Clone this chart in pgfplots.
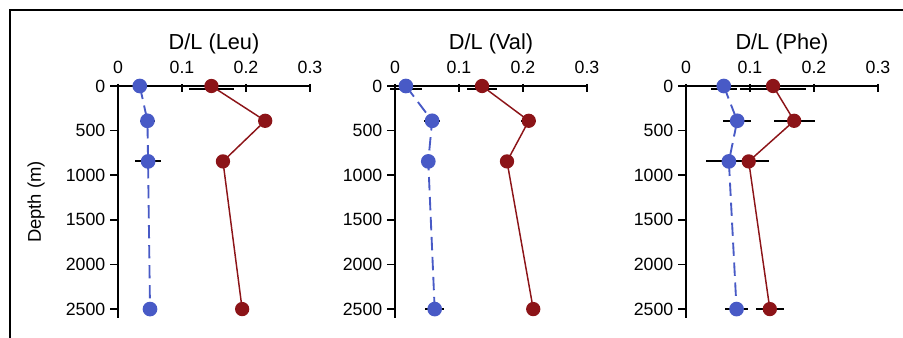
\documentclass[border=0pt]{standalone}
\usepackage{fontspec}
\setmainfont{Liberation Sans}
\usepackage{pgfplots}
\usepackage{pgfplotstable}
\pgfplotsset{compat=1.18}
\definecolor{bl}{RGB}{72,90,198}
\definecolor{rd}{RGB}{140,20,24}

% depth, depth of error bar, blue D/L, blue error, red D/L, red error
\pgfplotstableread{
d    ed    bx     be     rx     re
0    30    0.034  0.000  0.146  0.035
390  390   0.046  0.012  0.230  0.000
845  845   0.047  0.020  0.164  0.000
2500 2500  0.050  0.000  0.194  0.000
}\leu
\pgfplotstableread{
d    ed    bx     be     rx     re
0    30    0.017  0.025  0.136  0.024
390  390   0.058  0.012  0.209  0.012
845  845   0.052  0.000  0.175  0.000
2500 2500  0.062  0.015  0.216  0.000
}\val
\pgfplotstableread{
d    ed    bx     be     rx     re
0    30    0.059  0.020  0.136  0.051
390  390   0.080  0.022  0.169  0.032
845  845   0.067  0.035  0.098  0.031
2500 2500  0.079  0.018  0.131  0.022
}\phe

\pgfplotsset{
 panel/.style={
  scale only axis, width=144pt, height=174pt,
  xmin=0, xmax=0.3, ymin=0, ymax=2600, y dir=reverse,
  axis x line*=top, axis y line*=left,
  axis line style={black, line width=1.4pt},
  xtick={0,0.1,0.2,0.3}, ytick={0,500,1000,1500,2000,2500},
  tick style={black, line width=1.2pt},
  major tick length=6pt,
  tick align=outside,
  x tick style={yshift=-4.5pt},
  /pgf/number format/assume math mode=true,
  /pgf/number format/set thousands separator={},
  ticklabel style={font=\fontsize{13.3}{15}\selectfont},
  xlabel style={font=\fontsize{16.3}{19}\selectfont, yshift=-2pt},
  ylabel style={font=\fontsize{13.8}{16}\selectfont},
  ylabel shift=9pt,
  clip=false,
 },
 ebar/.style={forget plot, only marks, mark=none,
  error bars/.cd, x dir=both, x explicit,
  error bar style={black, line width=1.4pt}, error mark=none},
 blue/.style={bl, line width=1.4pt, dash pattern=on 10pt off 5pt,
  mark=*, mark size=4.8pt, mark options={solid, fill=bl, draw=bl}},
 red/.style={rd, line width=1.1pt,
  mark=*, mark size=4.8pt, mark options={solid, fill=rd, draw=rd}},
}

\begin{document}
\begin{tikzpicture}
\draw[black, line width=1.5pt] (7.3pt,-260pt) -- (7.3pt,-7.5pt) -- (690pt,-7.5pt);

\begin{axis}[panel, at={(88.5pt,-64.5pt)}, anchor=north west,
  xlabel={D/L (Leu)}, ylabel={Depth (m)}]
\addplot[ebar] table[x=bx, y=ed, x error=be]{\leu};
\addplot[ebar] table[x=rx, y=ed, x error=re]{\leu};
\addplot[blue] table[x=bx, y=d]{\leu};
\addplot[red] table[x=rx, y=d]{\leu};
\end{axis}

\begin{axis}[panel, at={(296.25pt,-64.5pt)}, anchor=north west,
  xlabel={D/L (Val)}]
\addplot[ebar] table[x=bx, y=ed, x error=be]{\val};
\addplot[ebar] table[x=rx, y=ed, x error=re]{\val};
\addplot[blue] table[x=bx, y=d]{\val};
\addplot[red] table[x=rx, y=d]{\val};
\end{axis}

\begin{axis}[panel, at={(514.5pt,-64.5pt)}, anchor=north west,
  xlabel={D/L (Phe)}]
\addplot[ebar] table[x=bx, y=ed, x error=be]{\phe};
\addplot[ebar] table[x=rx, y=ed, x error=re]{\phe};
\addplot[blue] table[x=bx, y=d]{\phe};
\addplot[red] table[x=rx, y=d]{\phe};
\end{axis}

\pgfresetboundingbox
\useasboundingbox (0,0) rectangle (677.25pt,-253.5pt);
\end{tikzpicture}
\end{document}
